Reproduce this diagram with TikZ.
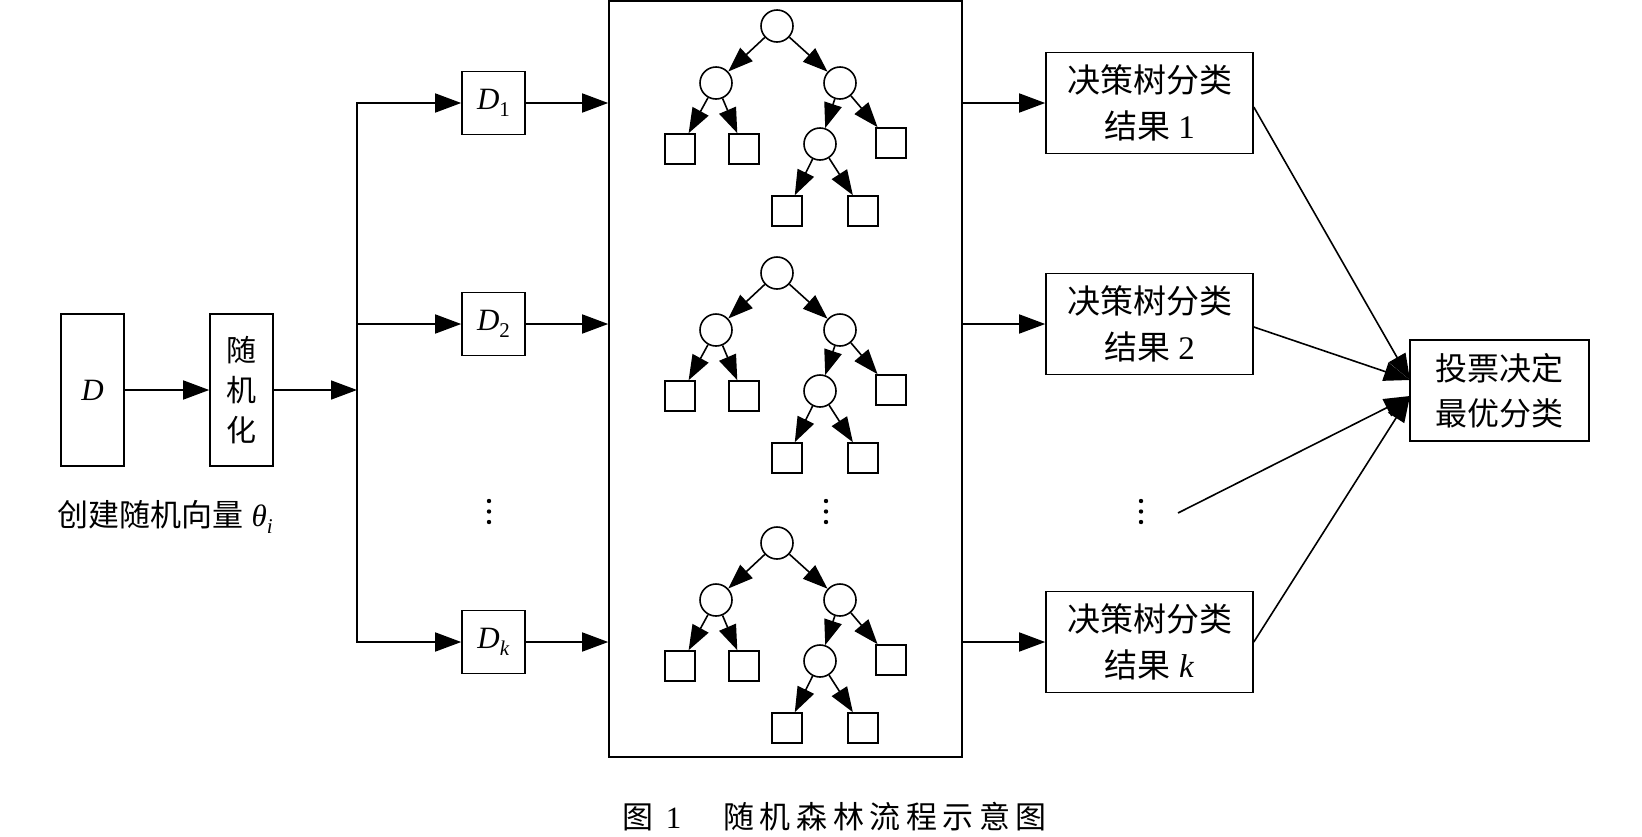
\documentclass[tikz,border=0pt]{standalone}
\usepackage{fontspec}
\setmainfont{Liberation Serif}
\newfontfamily\cjk{Noto Sans CJK SC}
\newfontfamily\cjkcap{Noto Sans CJK SC}[LetterSpace=18]
\newcommand{\dsub}[1]{\raisebox{-7pt}{\fontsize{21}{21}\selectfont #1}}
\usetikzlibrary{arrows.meta}

\begin{document}
\begin{tikzpicture}[x=1pt,y=-1pt, line width=1.6pt,
	every node/.style={font=\fontsize{31}{44}\selectfont},
	box/.style={draw, inner sep=0pt, align=center},
	result/.style={box, minimum width=207pt, minimum height=101pt, font=\fontsize{33}{46}\selectfont},
	inner/.style={draw, circle, minimum size=32pt, inner sep=0pt},
	leaf/.style={draw, minimum size=30pt, inner sep=0pt},
	arr/.style={-{Triangle[length=26pt,width=19pt]}},
	tarr/.style={-{Triangle[length=25pt,width=18pt]}}]%
	\useasboundingbox (0,0) rectangle (1642,836);
	\node[box, minimum width=63pt, minimum height=152pt] (d) at (92.5,390) {\textit{D}};
	\node[box, minimum width=63pt, minimum height=152pt, font=\fontsize{30}{40}\selectfont\cjk] (rand) at (241.5,390) {随\\机\\化};
	\node[anchor=west, inner sep=0pt] (theta) at (57,517) {{\cjk 创建随机向量} \textit{θ}\dsub{\textit{i}}};
	\coordinate (split) at (357,390);
	\node[box, minimum size=63pt] (d1) at (493.5,103) {\textit{D}\dsub{1}};
	\node[box, minimum size=63pt] (d2) at (493.5,324) {\textit{D}\dsub{2}};
	\node[box, minimum size=63pt] (dk) at (493.5,642) {\textit{D}\dsub{\textit{k}}};
	\node[draw, minimum width=353pt, minimum height=756pt, inner sep=0pt] (forest) at (785.5,379) {};
	\node[result] (res1) at (1149.5,103) {{\cjk 决策树分类}\\{\cjk 结果} 1};
	\node[result] (res2) at (1149.5,324) {{\cjk 决策树分类}\\{\cjk 结果} 2};
	\node[result] (resk) at (1149.5,642) {{\cjk 决策树分类}\\{\cjk 结果} \textit{k}};
	\node[box, minimum width=179pt, minimum height=101pt, font=\fontsize{32}{45}\selectfont\cjk] (vote) at (1499.5,390.5) {投票决定\\最优分类};
	\coordinate (vin1) at (1410,380);
	\coordinate (vin2) at (1410,396);
	\coordinate (rdots) at (1178,513);
	\node[anchor=west, inner sep=0pt] (caption) at (622,817) {{\cjk 图}\hspace{12pt}1\hspace{42pt}{\cjkcap 随机森林流程示意图}};
	\foreach \x in {489,826,1141}
		\foreach \y in {501,511.5,522}
			\fill (\x,\y) circle (2.2pt);
	\foreach \t/\y in {a/26,b/273,c/543} {
		\node[inner] (\t-root) at (777,\y) {};
		\node[inner] (\t-l) at (716,\y+57) {};
		\node[inner] (\t-r) at (840,\y+57) {};
		\node[leaf] (\t-ll) at (680,\y+123) {};
		\node[leaf] (\t-lr) at (744,\y+123) {};
		\node[inner] (\t-rl) at (820,\y+118) {};
		\node[leaf] (\t-rr) at (891,\y+117) {};
		\node[leaf] (\t-rll) at (787,\y+185) {};
		\node[leaf] (\t-rlr) at (863,\y+185) {};
		\draw[tarr] (\t-root) -- (\t-l);
		\draw[tarr] (\t-root) -- (\t-r);
		\draw[tarr] (\t-l) -- (\t-ll);
		\draw[tarr] (\t-l) -- (\t-lr);
		\draw[tarr] (\t-r) -- (\t-rl);
		\draw[tarr] (\t-r) -- (\t-rr);
		\draw[tarr] (\t-rl) -- (\t-rll);
		\draw[tarr] (\t-rl) -- (\t-rlr);
	}
	\draw[arr] (d) -- (rand);
	\draw[arr] (rand) -- (split);
	\draw[arr] (split) |- (d1);
	\draw[arr] (split) |- (d2);
	\draw[arr] (split) |- (dk);
	\draw[arr] (d1) -- (forest.west |- d1);
	\draw[arr] (d2) -- (forest.west |- d2);
	\draw[arr] (dk) -- (forest.west |- dk);
	\draw[arr] (forest.east |- res1) -- (res1);
	\draw[arr] (forest.east |- res2) -- (res2);
	\draw[arr] (forest.east |- resk) -- (resk);
	\draw[arr] ([yshift=-4pt]res1.east) -- (vin1);
	\draw[arr] ([yshift=-3pt]res2.east) -- (vin1);
	\draw[arr] (rdots) -- (vin2);
	\draw[arr] (resk.east) -- (vin2);
\end{tikzpicture}
\end{document}
